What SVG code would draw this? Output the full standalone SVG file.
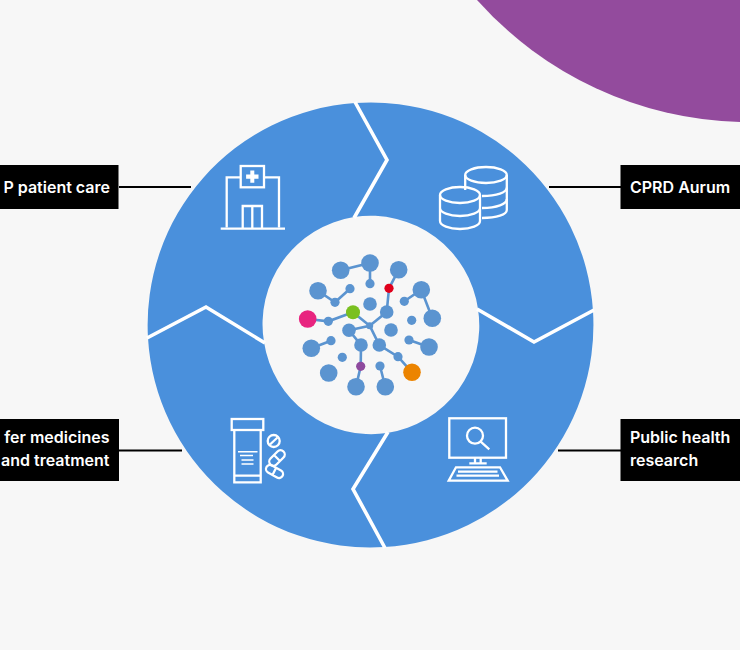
<svg xmlns="http://www.w3.org/2000/svg" width="740" height="650" viewBox="0 0 740 650">
<style>
.seg{fill:#4a90dc}
.sep{fill:none;stroke:#fff;stroke-width:3.6;stroke-linejoin:miter}
.lead{fill:none;stroke:#000;stroke-width:2}
.box{fill:#000}
.lbl{font-family:"Inter","Liberation Sans",sans-serif;font-size:16px;font-weight:600;fill:#fff}
.ic{fill:none;stroke:#fff;stroke-width:2.3}
.e{stroke:#5b94d0;stroke-width:2.6;fill:none}
.n{fill:#5b94d0}
</style>
<rect width="740" height="650" fill="#f7f7f7"/>
<path id="corner" d="M477,0 A365,365 0 0 0 740,122 L740,0 Z" fill="#934b9d"/>
<g id="ring">
<path class="seg" d="M148,338 A222.5,222.5 0 0 1 355,103 L387,160 L354,217 A108.5,108.5 0 0 0 264,342 L206,307 Z"/>
<path class="seg" d="M355,103 A222.5,222.5 0 0 1 593,311 L534,342 L478,309 A108.5,108.5 0 0 0 354,217 L387,160 Z"/>
<path class="seg" d="M593,311 A222.5,222.5 0 0 1 384,547 L353,489 L387,433 A108.5,108.5 0 0 0 478,309 L534,342 Z"/>
<path class="seg" d="M384,547 A222.5,222.5 0 0 1 148,338 L206,307 L264,342 A108.5,108.5 0 0 0 387,433 L353,489 Z"/>
<polyline class="sep" points="355,102 387,160 354,218"/>
<polyline class="sep" points="477,309 534,342 594,310"/>
<polyline class="sep" points="388,432 353,489 385,548"/>
<polyline class="sep" points="147,338 206,307 265,343"/>
</g>
<g id="connectors">
<path class="lead" d="M119,187H191"/>
<path class="lead" d="M549,187H621"/>
<path class="lead" d="M119,450.5H182" stroke-width="1.6"/>
<path class="lead" d="M558,450.5H621" stroke-width="1.6"/>
</g>
<g id="gp-care">
<rect class="box" x="-2" y="165" width="120.5" height="44"/>
<text class="lbl" x="110" y="193" text-anchor="end">P patient care</text>
<g class="ic">
<path d="M240.7,177.3H226.7V227.3M264,177.3H279V227.3M220.7,228.7H285"/>
<rect x="240.7" y="166" width="23.3" height="21.3"/>
<path d="M242.7,228V206H262V228M252.3,206V228"/>
</g>
<path d="M250.3,170.5h4v4h4.2v4.2h-4.2v4h-4v-4h-4.2v-4.2h4.2z" fill="#fff"/>
</g>
<g id="cprd-aurum">
<rect class="box" x="620.5" y="165" width="122" height="44"/>
<text class="lbl" x="630" y="193">CPRD Aurum</text>
<g class="ic">
<path d="M465.2,175V190M506.8,175V210C506.8,214.5 497,218 482,218"/>
<ellipse cx="486" cy="175" rx="20.8" ry="8"/>
<path d="M465.2,178C465.2,183 475,187 486,187C497,187 506.8,183 506.8,175M481,187.4C497,189 506.8,192 506.8,187M481,199.5C497,201 506.8,204 506.8,198" stroke="none"/>
<path d="M482,196C497,196 506.8,192.500 506.8,187.500M482,208C497,208 506.8,204 506.8,199"/>
<ellipse cx="460" cy="195" rx="20" ry="8"/>
<path d="M440,195V221C440,225.500 449,229 460,229C471,229 480,225.500 480,221V195M440,208C440,212.500 449,216 460,216C471,216 480,212.500 480,208"/>
</g>
</g>
<g id="public-health">
<rect class="box" x="620.5" y="419" width="122" height="62"/>
<text class="lbl" x="630" y="443">Public health</text>
<text class="lbl" x="630" y="466">research</text>
<g class="ic">
<rect x="449.300" y="418.300" width="56.700" height="39.400"/>
<circle cx="475" cy="435.700" r="8"/>
<path d="M480.700,441.700L489.300,449.300M475,457.700V463.300M480.700,457.700V463.300M469.300,463.300H486.700"/>
<path d="M456,467.300H500L507.700,480.700H448.700ZM458,471.700H497.500M456.500,475.700H499"/>
</g>
</g>
<g id="medicines">
<rect class="box" x="-2" y="419" width="121" height="62"/>
<text class="lbl" x="109.500" y="443" text-anchor="end">fer medicines</text>
<text class="lbl" x="109.500" y="466" text-anchor="end">and treatment</text>
<g class="ic">
<rect x="231.700" y="419" width="31.600" height="11"/>
<path d="M234.300,430V482.300H260.700V430M234.300,475.700H260.700"/>
<circle cx="273.700" cy="441" r="6"/>
<path d="M270,444.500L277.500,437.500"/>
<path d="M270.500,458.500L277.500,451.500A4.200,4.200 0 0 1 283.500,457.500L276.500,464.500A4.200,4.200 0 0 1 270.500,458.500ZM274,455L280,461"/>
<path d="M272,465.500L281,470.500A4,4 0 0 1 277,477.500L268,472.500A4,4 0 0 1 272,465.500ZM276,468L272.500,475"/>
</g>
<path d="M238,451.700H257.500M240,455.500H253M241.500,460H253.500M241.500,464H253.500" stroke="#fff" stroke-width="1.500" fill="none"/>
</g>
<g id="network">
<path class="e" d="M340.700,270.300L370,263V283.700M398.700,269.700L389,288.300L386.700,312L369.700,325.700M318,290.700L335,302.300L350,288.700M404.300,301.300L421.300,289.700L432.300,318.300M307.700,319L328.300,321.300L353,312.300L369.700,325.700L349,330.300L361,345L360.700,366.300L356,386.700M369.700,325.700L379.300,345L398,356.700L412,372.300M311.300,348.300L331,340.700M409,340L429,347M380,366L385.300,386.700"/>
<g class="n">
<circle cx="340.700" cy="270.300" r="8.800"/><circle cx="370" cy="263" r="8.800"/><circle cx="398.700" cy="269.700" r="8.800"/><circle cx="318" cy="290.700" r="8.800"/><circle cx="421.300" cy="289.700" r="8.800"/><circle cx="432.300" cy="318.300" r="8.800"/><circle cx="311.300" cy="348.300" r="8.800"/><circle cx="429" cy="347" r="8.800"/><circle cx="328.700" cy="373" r="8.800"/><circle cx="356" cy="386.700" r="8.800"/><circle cx="385.300" cy="386.700" r="8.800"/>
<circle cx="370" cy="304" r="6.800"/><circle cx="386.700" cy="312" r="6.800"/><circle cx="391" cy="330" r="6.800"/><circle cx="349" cy="330.300" r="6.800"/><circle cx="361" cy="345" r="6.800"/><circle cx="379.300" cy="345" r="6.800"/>
<circle cx="370" cy="283.700" r="4.600"/><circle cx="350" cy="288.700" r="4.600"/><circle cx="335" cy="302.300" r="4.600"/><circle cx="404.300" cy="301.300" r="4.600"/><circle cx="411.700" cy="320.300" r="4.600"/><circle cx="328.300" cy="321.300" r="4.600"/><circle cx="331" cy="340.700" r="4.600"/><circle cx="409" cy="340" r="4.600"/><circle cx="342.300" cy="357.300" r="4.600"/><circle cx="398" cy="356.700" r="4.600"/><circle cx="380" cy="366" r="4.600"/><circle cx="369.700" cy="325.700" r="3.500"/>
</g>
<circle cx="307.700" cy="319" r="8.800" fill="#e8247f"/>
<circle cx="353" cy="312.300" r="7" fill="#7ac020"/>
<circle cx="412" cy="372.300" r="8.800" fill="#ec8400"/>
<circle cx="360.700" cy="366.300" r="4.600" fill="#8e4a9e"/>
<circle cx="389" cy="288.300" r="4.600" fill="#e0001b"/>
</g>
</svg>
